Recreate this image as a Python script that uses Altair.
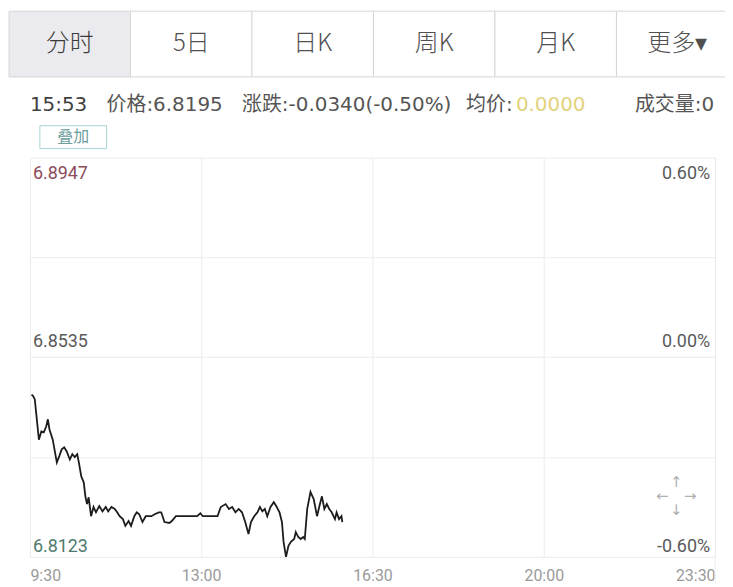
import altair as alt
import pandas as pd

# ---------------- data ----------------
times = ["09:32", "09:34", "09:36", "09:41", "09:44", "09:47", "09:50", "09:52", "09:54", "09:58",
         "10:03", "10:06", "10:09", "10:12", "10:15", "10:19", "10:22", "10:25", "10:28", "10:30",
         "10:33", "10:36", "10:38", "10:40", "10:42", "10:45", "10:48", "10:51", "10:55", "10:59",
         "11:03", "11:06", "11:10", "11:14", "11:17", "11:20", "11:24", "11:27", "11:31", "11:34",
         "11:38", "11:41", "11:44", "11:48", "11:52", "11:59", "12:03", "12:08", "12:11", "12:15",
         "12:21", "12:24", "12:29", "12:37", "12:45", "12:55", "12:59", "13:02", "13:10", "13:20",
         "13:24", "13:30", "13:34", "13:38", "13:42", "13:46", "13:50", "13:54", "13:58", "14:01",
         "14:05", "14:09", "14:12", "14:15", "14:18", "14:21", "14:25", "14:29", "14:32", "14:36",
         "14:39", "14:41", "14:44", "14:47", "14:50", "14:54", "14:56", "14:59", "15:02", "15:05",
         "15:07", "15:10", "15:14", "15:18", "15:22", "15:25", "15:28", "15:31", "15:34", "15:37",
         "15:40", "15:44", "15:46", "15:49", "15:52", "15:53"]
prices = [6.8458, 6.8455, 6.8448, 6.8365, 6.8382, 6.8380, 6.8392, 6.8407, 6.8386, 6.8365,
          6.8318, 6.8331, 6.8345, 6.8349, 6.8341, 6.8324, 6.8335, 6.8329, 6.8335, 6.8318,
          6.8289, 6.8277, 6.8248, 6.8232, 6.8246, 6.8207, 6.8226, 6.8215, 6.8228, 6.8217,
          6.8226, 6.8217, 6.8226, 6.8222, 6.8215, 6.8207, 6.8201, 6.8187, 6.8197, 6.8187,
          6.8207, 6.8215, 6.8211, 6.8195, 6.8207, 6.8207, 6.8211, 6.8215, 6.8215, 6.8195,
          6.8193, 6.8197, 6.8207, 6.8207, 6.8207, 6.8207, 6.8213, 6.8207, 6.8207, 6.8207,
          6.8226, 6.8232, 6.8222, 6.8226, 6.8215, 6.8222, 6.8215, 6.8195, 6.8170, 6.8195,
          6.8207, 6.8215, 6.8226, 6.8217, 6.8222, 6.8207, 6.8226, 6.8236, 6.8228, 6.8215,
          6.8195, 6.8154, 6.8123, 6.8146, 6.8154, 6.8160, 6.8174, 6.8164, 6.8160, 6.8164,
          6.8160, 6.8222, 6.8257, 6.8242, 6.8207, 6.8228, 6.8248, 6.8222, 6.8232, 6.8222,
          6.8215, 6.8201, 6.8215, 6.8201, 6.8207, 6.8195]

y_grid = [6.8123, 6.8329, 6.8535, 6.8741, 6.8947]
price_labels = ["6.8947", "6.8535", "6.8123"]
pct_labels = ["0.60%", "0.00%", "-0.60%"]
x_tick_times = ["9:30", "13:00", "16:30", "20:00", "23:30"]
tabs = ["分时", "5日", "日K", "周K", "月K", "更多▾"]
info_parts = ["15:53", "价格:6.8195", "涨跌:-0.0340(-0.50%)", "均价:", "0.0000", "成交量:0"]
overlay_btn = "叠加"

# ---------------- helpers ----------------
def to_min(t):
    h, m = t.split(":")
    return int(h) * 60 + int(m) - 570

W, H = 688, 401
FONT = "Roboto, 'Noto Sans CJK SC', sans-serif"
INFO_FONT = "'DejaVu Sans', 'Noto Sans CJK SC', sans-serif"
CJK = "'Noto Sans CJK SC', 'DejaVu Sans', sans-serif"

df = pd.DataFrame({"m": [to_min(t) for t in times], "p": prices})
x_vals = [to_min(t) for t in x_tick_times]
label_expr = " : ".join(f"datum.value == {v} ? '{t}'" for v, t in zip(x_vals, x_tick_times)) + " : ''"

x_enc = alt.X("m:Q", scale=alt.Scale(domain=[x_vals[0], x_vals[-1]], nice=False),
              axis=alt.Axis(values=x_vals, labelExpr=label_expr, grid=True, gridColor="#ececec",
                            domain=False, ticks=False, labelFlush=True, labelFontSize=16,
                            labelColor="#9a9a9a", labelFont=FONT, labelPadding=11, title=None))
y_enc = alt.Y("p:Q", scale=alt.Scale(domain=[y_grid[0], y_grid[-1]], nice=False, zero=False),
              axis=alt.Axis(values=y_grid, grid=True, gridColor="#ececec", labels=False,
                            ticks=False, domain=False, title=None))

line = alt.Chart(df).mark_line(color="#1c1c1c", strokeWidth=1.8, interpolate="linear").encode(
    x=x_enc, y=y_enc)

# y labels (left: price, right: percent)
lab_df = pd.DataFrame({
    "p": [y_grid[4], y_grid[2], y_grid[0]],
    "price": price_labels,
    "pct": pct_labels,
    "pos": ["top", "mid", "bottom"],
})
price_colors = ["#8c4b5a", "#5a5a5a", "#4f7a6d"]
layers_lab = []
for pos, dy in [("top", 22), ("mid", -10), ("bottom", -5)]:
    base = alt.Chart(lab_df).transform_filter(alt.datum.pos == pos)
    layers_lab.append(base.mark_text(align="left", baseline="alphabetic", dy=dy, fontSize=18,
                                     font=FONT).encode(
        x=alt.value(3), y=alt.Y("p:Q"), text="price:N",
        color=alt.Color("price:N", scale=alt.Scale(domain=price_labels, range=price_colors),
                        legend=None)))
    layers_lab.append(base.mark_text(align="right", baseline="alphabetic", dy=dy, fontSize=18,
                                     font=FONT, color="#5a5a5a").encode(
        x=alt.value(W - 5), y=alt.Y("p:Q"), text="pct:N"))

# right border extension below the plot
edge = alt.Chart(pd.DataFrame({"t": [0]})).mark_rule(color="#ececec", strokeWidth=1).encode(
    x=alt.value(W), y=alt.value(H), y2=alt.value(H + 28))

# tab bar
TAB_L, TAB_W = -21, 122
tab_df = pd.DataFrame({
    "name": tabs,
    "x0": [TAB_L + i * TAB_W for i in range(len(tabs))],
    "x1": [TAB_L + (i + 1) * TAB_W for i in range(len(tabs))],
    "xc": [TAB_L + (i + 0.5) * TAB_W for i in range(len(tabs))],
    "active": [i == 0 for i in range(len(tabs))],
})
tab_rect = alt.Chart(tab_df).mark_rect(stroke="#d6d6d6", strokeWidth=1).encode(
    x=alt.X("x0:Q", scale=None), x2="x1:Q",
    y=alt.value(-147), y2=alt.value(-81),
    fill=alt.condition("datum.active", alt.value("#ebeaee"), alt.value("#ffffff")))
tab_text = alt.Chart(tab_df).mark_text(fontSize=24, font=CJK, fontWeight=300, baseline="middle",
                                        align="center").encode(
    x=alt.X("xc:Q", scale=None), y=alt.value(-114), text="name:N",
    color=alt.condition("datum.active", alt.value("#3a3a3a"), alt.value("#505050")))

# info line
info_x = [0, 77, 213, 438, 488]
info_col = ["#404040", "#555555", "#555555", "#555555", "#e2d27e"]
info_layers = []
for txt, xx, cc in zip(info_parts[:5], info_x, info_col):
    info_layers.append(alt.Chart(pd.DataFrame({"t": [txt]})).mark_text(
        align="left", baseline="alphabetic", fontSize=20, font=INFO_FONT, color=cc).encode(
        x=alt.value(xx), y=alt.value(-47), text="t:N"))
info_layers.append(alt.Chart(pd.DataFrame({"t": [info_parts[5]]})).mark_text(
    align="right", baseline="alphabetic", fontSize=20, font=INFO_FONT, color="#555555").encode(
    x=alt.value(687), y=alt.value(-47), text="t:N"))

# overlay button
btn_box = alt.Chart(pd.DataFrame({"t": [overlay_btn]})).mark_rect(
    fill="#ffffff", stroke="#a6d2d2", strokeWidth=1).encode(
    x=alt.value(10), x2=alt.value(77), y=alt.value(-32), y2=alt.value(-9))
btn_txt = alt.Chart(pd.DataFrame({"t": [overlay_btn]})).mark_text(
    fontSize=16, font=CJK, color="#6c9e9e", align="center", baseline="middle").encode(
    x=alt.value(43.5), y=alt.value(-20.5), text="t:N")

# move icon
icon_layers = []
for ch, dx, dyy in [("↑", 0, -14), ("↓", 0, 14), ("←", -14, 0), ("→", 14, 0)]:
    icon_layers.append(alt.Chart(pd.DataFrame({"t": [ch]})).mark_text(
        fontSize=15, font="DejaVu Sans", color="#b0b0b0", align="center", baseline="middle").encode(
        x=alt.value(649 + dx), y=alt.value(340 + dyy), text="t:N"))

chart = alt.layer(
    line, *layers_lab, edge, tab_rect, tab_text, *info_layers, btn_box, btn_txt, *icon_layers
).properties(
    width=W, height=H,
    padding={"left": 22, "top": 149, "right": 10, "bottom": 28},
    autosize=alt.AutoSizeParams(type="none"),
    background="#ffffff",
).configure_view(stroke=None)

chart.save("out.html", embed_options={"renderer": "svg", "actions": False})
